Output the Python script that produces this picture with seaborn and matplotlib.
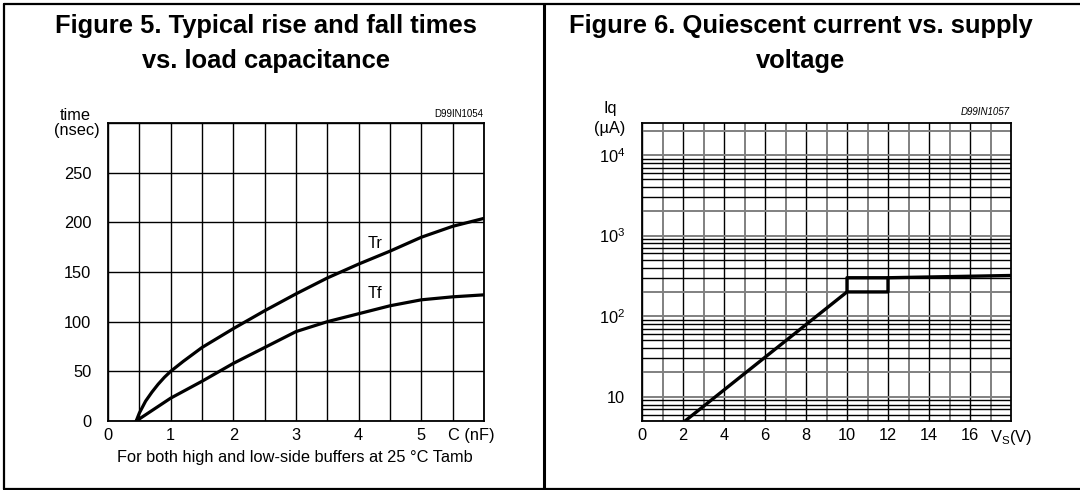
import numpy as np
import pandas as pd
import matplotlib
matplotlib.use("Agg")
import matplotlib.pyplot as plt
from matplotlib.lines import Line2D
import seaborn as sns

# ---- Data: Figure 5 (rise / fall times vs load capacitance) ----
cap_tr = [0.45, 0.5, 0.6, 0.7, 0.8, 0.9, 1.0, 1.2, 1.5, 2.0, 2.5, 3.0, 3.5, 4.0, 4.5, 5.0, 5.5, 6.0]
time_tr = [0, 8, 20, 29, 37, 44, 50, 60, 74, 93, 111, 128, 144, 158, 171, 185, 196, 204]
cap_tf = [0.45, 1.0, 1.5, 2.0, 2.5, 3.0, 3.5, 4.0, 4.5, 5.0, 5.5, 6.0]
time_tf = [0, 23, 40, 58, 74, 90, 100, 108, 116, 122, 125, 127]
left_xticks = [0, 1, 2, 3, 4, 5]
left_yticks = [0, 50, 100, 150, 200, 250]

# ---- Data: Figure 6 (quiescent current vs supply voltage) ----
vs_low = [2.1, 10, 12, 12]
iq_low = [5, 200, 200, 300]
vs_high = [10, 10, 12, 18]
iq_high = [200, 300, 300, 320]
right_xticks = [0, 2, 4, 6, 8, 10, 12, 14, 16]
right_yticks = [10, 100, 1000, 10000]
right_ylabels = ["10", "10$^2$", "10$^3$", "10$^4$"]

sns.set_theme(style="white")
plt.rcParams["font.family"] = ["Liberation Sans", "DejaVu Sans"]
plt.rcParams["mathtext.fontset"] = "custom"
plt.rcParams["mathtext.rm"] = "Liberation Sans"
plt.rcParams["mathtext.it"] = "Liberation Sans:italic"
plt.rcParams["mathtext.bf"] = "Liberation Sans:bold"
plt.rcParams["text.color"] = "black"
plt.rcParams["xtick.color"] = "black"
plt.rcParams["ytick.color"] = "black"
plt.rcParams["xtick.labelcolor"] = "black"
plt.rcParams["ytick.labelcolor"] = "black"

W, H = 1080, 490
fig = plt.figure(figsize=(W / 100, H / 100), dpi=100)

def fx(px):
    return px / W

def fy(py):
    return 1 - py / H

TICK_FS = 11.8
LINE_C = "black"

# ---------- Left chart ----------
axL = fig.add_axes([fx(108), fy(421), fx(484) - fx(108), fy(123) - fy(421)])
df_tr = pd.DataFrame({"C": cap_tr, "t": time_tr})
df_tf = pd.DataFrame({"C": cap_tf, "t": time_tf})
sns.lineplot(data=df_tr, x="C", y="t", ax=axL, color=LINE_C, lw=2.3,
             sort=False, estimator=None)
sns.lineplot(data=df_tf, x="C", y="t", ax=axL, color=LINE_C, lw=2.3,
             sort=False, estimator=None)
axL.set_xlim(0, 6)
axL.set_ylim(0, 300)
axL.set_xticks(left_xticks)
axL.set_xticklabels([str(v) for v in left_xticks], fontsize=TICK_FS)
axL.set_xticks(np.arange(0, 6.01, 0.5), minor=True)
axL.set_yticks(left_yticks)
axL.set_yticklabels([str(v) for v in left_yticks], fontsize=TICK_FS)
axL.set_yticks(np.arange(0, 301, 50), minor=True)
axL.grid(True, which="both", color="black", lw=1.0)
axL.tick_params(which="both", length=0)
axL.tick_params(axis="y", pad=12)
axL.tick_params(axis="x", pad=5)
axL.set_xlabel("")
axL.set_ylabel("")
for s in axL.spines.values():
    s.set_color("black")
    s.set_linewidth(1.3)
axL.text(5.8, -0.022, "C (nF)", transform=axL.get_xaxis_transform(),
         ha="center", va="top", fontsize=TICK_FS)
axL.text(4.26, 179, "Tr", ha="center", va="center", fontsize=TICK_FS,
         bbox=dict(fc="white", ec="none", pad=0.5))
axL.text(4.26, 128, "Tf", ha="center", va="center", fontsize=TICK_FS,
         bbox=dict(fc="white", ec="none", pad=0.5))
fig.text(fx(75), fy(115), "time", ha="center", va="center", fontsize=TICK_FS)
fig.text(fx(77), fy(131), "(nsec)", ha="center", va="center", fontsize=TICK_FS)
fig.text(fx(483), fy(114), "D99IN1054", ha="right", va="center", fontsize=7)
fig.text(fx(295), fy(457), "For both high and low-side buffers at 25 °C Tamb",
         ha="center", va="center", fontsize=TICK_FS)

# ---------- Right chart ----------
axR = fig.add_axes([fx(642), fy(421), fx(1011) - fx(642), fy(123) - fy(421)])
axR.set_yscale("log")
df_low = pd.DataFrame({"V": vs_low, "I": iq_low})
df_high = pd.DataFrame({"V": vs_high, "I": iq_high})
sns.lineplot(data=df_low, x="V", y="I", ax=axR, color=LINE_C, lw=2.4,
             sort=False, estimator=None)
sns.lineplot(data=df_high, x="V", y="I", ax=axR, color=LINE_C, lw=2.4,
             sort=False, estimator=None)
axR.set_xlim(0, 18)
axR.set_ylim(5, 25000)
axR.set_xticks(right_xticks)
axR.set_xticklabels([str(v) for v in right_xticks], fontsize=TICK_FS)
axR.set_xticks(np.arange(1, 18, 2), minor=True)
axR.set_yticks(right_yticks)
axR.set_yticklabels(right_ylabels, fontsize=TICK_FS)
minor_y = [m * 10 ** d for d in range(0, 5) for m in range(2, 10)
           if 5 <= m * 10 ** d <= 25000]
axR.set_yticks(minor_y, minor=True)
axR.set_yticklabels([], minor=True)
axR.grid(True, which="major", axis="x", color="black", lw=1.0)
axR.grid(True, which="minor", axis="x", color="#808080", lw=1.4)
axR.grid(True, which="major", axis="y", color="#808080", lw=1.4)
axR.grid(True, which="minor", axis="y", color="black", lw=1.0)
for t, v in zip(axR.yaxis.get_minor_ticks(), minor_y):
    mant = round(v / 10 ** np.floor(np.log10(v)))
    if mant == 2:
        t.gridline.set_color("#808080")
        t.gridline.set_linewidth(1.4)
axR.tick_params(which="both", length=0)
axR.tick_params(axis="y", pad=12)
axR.tick_params(axis="x", pad=5)
axR.set_xlabel("")
axR.set_ylabel("")
for s in axR.spines.values():
    s.set_color("black")
    s.set_linewidth(1.3)
axR.text(18.0, -0.022, "V$_\\mathrm{S}$(V)", transform=axR.get_xaxis_transform(),
         ha="center", va="top", fontsize=TICK_FS)
fig.text(fx(610), fy(108), "Iq", ha="center", va="center", fontsize=TICK_FS)
fig.text(fx(610), fy(128), "(µA)", ha="center", va="center", fontsize=TICK_FS)
fig.text(fx(1010), fy(112), "D99IN1057", ha="right", va="center", fontsize=7,
         style="italic")

# ---------- Titles ----------
TFS = 18.4
fig.text(fx(266), fy(33), "Figure 5. Typical rise and fall times", ha="center",
         va="baseline", fontsize=TFS, fontweight="bold")
fig.text(fx(266), fy(68), "vs. load capacitance", ha="center",
         va="baseline", fontsize=TFS, fontweight="bold")
fig.text(fx(801), fy(33), "Figure 6. Quiescent current vs. supply", ha="center",
         va="baseline", fontsize=TFS, fontweight="bold")
fig.text(fx(801), fy(68), "voltage", ha="center",
         va="baseline", fontsize=TFS, fontweight="bold")

# ---------- Frame ----------
fw = 1.6
fig.add_artist(Line2D([fx(4), 1], [fy(4.5), fy(4.5)], color="black", lw=fw))
fig.add_artist(Line2D([fx(4), fx(4)], [fy(4.5), fy(489)], color="black", lw=fw))
fig.add_artist(Line2D([fx(543.5), fx(543.5)], [fy(4.5), fy(489)], color="black", lw=2.2))
fig.add_artist(Line2D([fx(4), 1], [fy(488.5), fy(488.5)], color="black", lw=fw))

fig.savefig("out.png", dpi=100)
